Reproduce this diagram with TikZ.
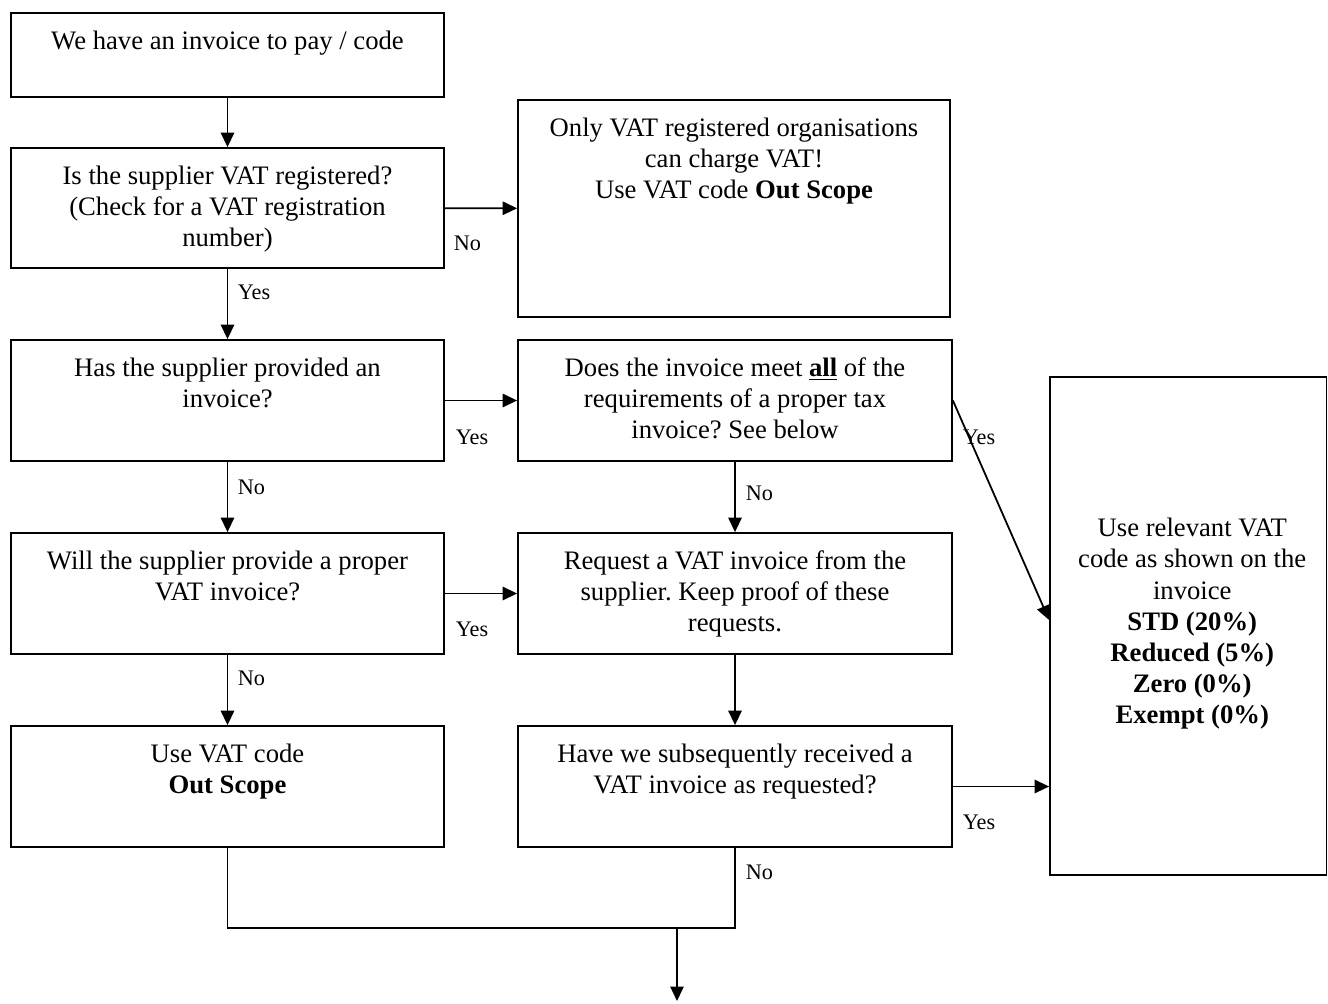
\documentclass[tikz,border=0pt]{standalone}
\usepackage{fontspec}
\setmainfont{Liberation Serif}
\usetikzlibrary{arrows.meta,fit,calc}
\frenchspacing

\begin{document}
\begin{tikzpicture}
	[x=0.45pt,y=-0.45pt,line width=0.8pt,
	box/.style={draw,rectangle,inner sep=0pt,line width=0.8pt},
	txt/.style={anchor=north,inner sep=0pt,align=center,
		font=\fontsize{12}{14}\selectfont,yshift=-8pt},
	lbl/.style={anchor=west,inner sep=0pt,font=\fontsize{10}{12}\selectfont},
	arr/.style={-{Triangle[length=6.5pt,width=6pt]},line width=0.8pt}]
	\useasboundingbox (0,0) rectangle (1328,1003);
	
	\node[box,fit={(11,13) (444,97)}] (A) {};
	\node[box,fit={(11,148) (444,268)}] (B) {};
	\node[box,fit={(518,100) (950,317)}] (C) {};
	\node[box,fit={(11,340) (444,461)}] (D) {};
	\node[box,fit={(518,340) (952,461)}] (E) {};
	\node[box,fit={(11,533) (444,654)}] (F) {};
	\node[box,fit={(518,533) (952,654)}] (G) {};
	\node[box,fit={(1050,377) (1326.5,875)}] (H) {};
	\node[box,fit={(11,726) (444,847)}] (I) {};
	\node[box,fit={(518,726) (952,847)}] (J) {};
	
	\node[txt] (tA) at (A.north) {We have an invoice to pay / code};
	\node[txt] (tB) at (B.north) {Is the supplier VAT registered?\\(Check for a VAT registration\\number)};
	\node[txt] (tC) at (C.north) {Only VAT registered organisations\\can charge VAT!\\Use VAT code \textbf{Out Scope}};
	\node[txt] (tD) at (D.north) {Has the supplier provided an\\invoice?};
	\node[txt] (tE) at (E.north) {Does the invoice meet \textbf{\underline{all}} of the\\requirements of a proper tax\\invoice? See below};
	\node[txt] (tF) at (F.north) {Will the supplier provide a proper\\VAT invoice?};
	\node[txt] (tG) at (G.north) {Request a VAT invoice from the\\supplier. Keep proof of these\\requests.};
	\node[txt,anchor=center,yshift=0pt] (tH) at ($(H.center)+(4,-20)$) {Use relevant VAT\\code as shown on the\\invoice\\\textbf{STD (20\%)}\\\textbf{Reduced (5\%)}\\\textbf{Zero (0\%)}\\\textbf{Exempt (0\%)}};
	\node[txt] (tI) at (I.north) {Use VAT code\\\textbf{Out Scope}};
	\node[txt] (tJ) at (J.north) {Have we subsequently received a\\VAT invoice as requested?};
	
	\coordinate (join) at (735,928);
	\coordinate (mid) at (677,928);
	\coordinate (out) at (677,1001);
	
	\path
	\foreach \startNode/\endNode in {A/B,B/D,D/F,F/I,E/G,G/J,B/C,D/E,F/G}
	{
		(\startNode) edge[arr] (\endNode)
	};
	\draw[arr] (E.east) -- ([yshift=2.7pt]H.west);
	\draw[arr] (J.east) -- (J.east -| H.west);
	\draw (I.south) |- (join) -- (J.south);
	\draw[arr] (mid) -- (out);
	
	\node[lbl] (l1) at (453,243) {No};
	\node[lbl] (l2) at (237,292) {Yes};
	\node[lbl] (l3) at (455,437) {Yes};
	\node[lbl] (l4) at (962,437) {Yes};
	\node[lbl] (l5) at (237,487) {No};
	\node[lbl] (l6) at (745,493) {No};
	\node[lbl] (l7) at (455,629) {Yes};
	\node[lbl] (l8) at (237,678) {No};
	\node[lbl] (l9) at (962,822) {Yes};
	\node[lbl] (l10) at (745,872) {No};
\end{tikzpicture}
\end{document}
